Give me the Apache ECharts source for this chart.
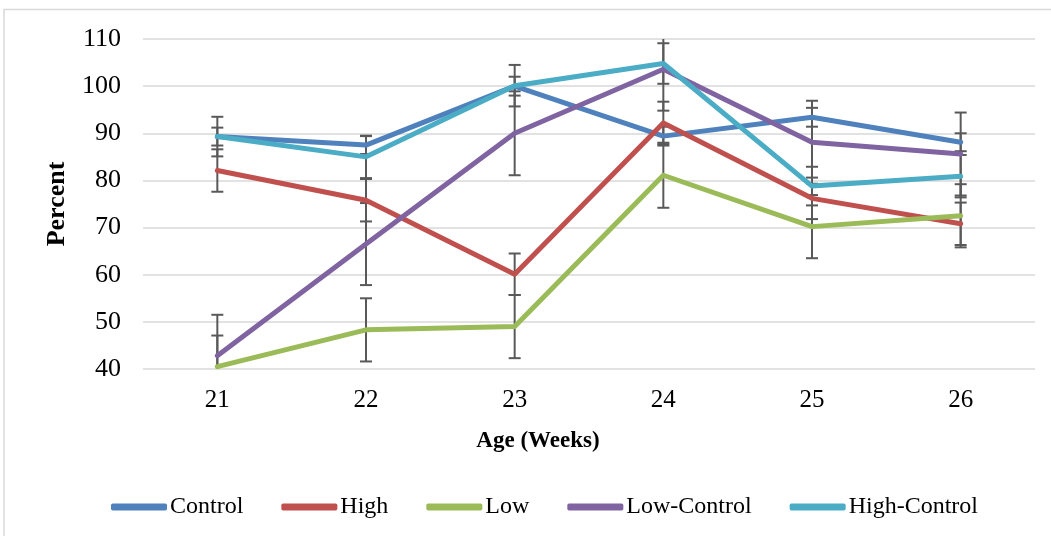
<!DOCTYPE html>
<html>
<head>
<meta charset="utf-8">
<script src="https://cdn.jsdelivr.net/npm/echarts@6/dist/echarts.min.js"></script>
<style>html,body{margin:0;padding:0;background:#fff;}#c{width:1051px;height:536px;}</style>
</head>
<body>
<div id="c"></div>
<script>
var categories = ['21', '22', '23', '24', '25', '26'];
var control = [89.3, 87.5, 100.0, 89.4, 93.4, 88.1];
var high = [82.1, 75.8, 60.1, 92.2, 76.2, 70.8];
var low = [40.5, 48.3, 49.0, 81.1, 70.2, 72.5];
var lowControl = [42.8, 66.5, 90.0, 103.6, 88.1, 85.6];
var highControl = [89.3, 85.0, 100.1, 104.8, 78.8, 80.9];
var controlErr = [1.9, 1.9, 2.0, 2.0, 2.0, 1.9];
var highErr = [4.5, 4.5, 4.4, 4.5, 4.4, 4.5];
var lowErr = [6.6, 6.7, 6.7, 6.9, 6.7, 6.7];
var lowControlErr = [8.7, 8.7, 8.9, 8.8, 8.8, 8.8];
var highControlErr = [4.2, 4.5, 4.4, 4.3, 4.1, 4.5];
var yTicks = [40, 50, 60, 70, 80, 90, 100, 110];

var seriesDefs = [
  {name: 'Control', data: control, err: controlErr, color: '#4F81BD'},
  {name: 'High', data: high, err: highErr, color: '#C0504D'},
  {name: 'Low', data: low, err: lowErr, color: '#9BBB59'},
  {name: 'Low-Control', data: lowControl, err: lowControlErr, color: '#8064A2'},
  {name: 'High-Control', data: highControl, err: highControlErr, color: '#4BACC6'}
];

var FONT = '"Liberation Serif", "Times New Roman", serif';

function errRender(params, api) {
  var idx = api.value(0);
  var lo = api.coord([idx, api.value(1)]);
  var hi = api.coord([idx, api.value(2)]);
  var cw = 6;
  var st = {stroke: '#595959', lineWidth: 2};
  return {
    type: 'group',
    children: [
      {type: 'line', shape: {x1: lo[0], y1: lo[1], x2: hi[0], y2: hi[1]}, style: st},
      {type: 'line', shape: {x1: lo[0] - cw, y1: lo[1], x2: lo[0] + cw, y2: lo[1]}, style: st},
      {type: 'line', shape: {x1: hi[0] - cw, y1: hi[1], x2: hi[0] + cw, y2: hi[1]}, style: st}
    ]
  };
}

var series = [];
seriesDefs.forEach(function (s) {
  series.push({
    type: 'custom',
    name: s.name + ' err',
    renderItem: errRender,
    clip: true,
    z: 1,
    silent: true,
    encode: {x: 0, y: [1, 2]},
    data: s.data.map(function (v, i) { return [i, v - s.err[i], v + s.err[i]]; })
  });
});
seriesDefs.forEach(function (s) {
  series.push({
    type: 'line',
    name: s.name,
    data: s.data,
    showSymbol: false,
    symbol: 'none',
    z: 3,
    color: s.color,
    lineStyle: {width: 5, color: s.color, cap: 'round', join: 'round'}
  });
});

var chart = echarts.init(document.getElementById('c'), null, {renderer: 'canvas'});
chart.setOption({
  animation: false,
  backgroundColor: '#fff',
  grid: {left: 143, right: 16, top: 39, bottom: 167, containLabel: false},
  legend: {
    data: seriesDefs.map(function (s) { return s.name; }),
    icon: 'roundRect',
    left: 106,
    top: 490,
    itemWidth: 56,
    itemHeight: 7,
    itemGap: 38,
    textStyle: {fontFamily: FONT, fontSize: 24, color: '#000', padding: [0, 0, 0, -2]}
  },
  xAxis: {
    type: 'category',
    data: categories,
    boundaryGap: true,
    axisLine: {show: false},
    axisTick: {show: false},
    axisLabel: {fontFamily: FONT, fontSize: 25, color: '#000', margin: 19}
  },
  yAxis: {
    type: 'value',
    min: yTicks[0],
    max: yTicks[yTicks.length - 1],
    interval: 10,
    name: 'Percent',
    nameLocation: 'middle',
    nameGap: 73,
    nameRotate: 90,
    nameTextStyle: {fontFamily: FONT, fontSize: 26, fontWeight: 'bold', color: '#000'},
    axisLine: {show: false},
    axisTick: {show: false},
    axisLabel: {fontFamily: FONT, fontSize: 26, color: '#000', margin: 22},
    splitLine: {lineStyle: {color: '#d9d9d9', width: 1.5}}
  },
  graphic: [
    {type: 'rect', shape: {x: 4, y: 9.5, width: 1060, height: 540}, style: {fill: 'none', stroke: '#d9d9d9', lineWidth: 1.5}, silent: true, z: 0},
    {type: 'text', x: 538, y: 441, style: {text: 'Age (Weeks)', font: 'bold 23px ' + FONT, fill: '#000', textAlign: 'center', textVerticalAlign: 'middle'}, silent: true}
  ],
  series: series
});
</script>
</body>
</html>
